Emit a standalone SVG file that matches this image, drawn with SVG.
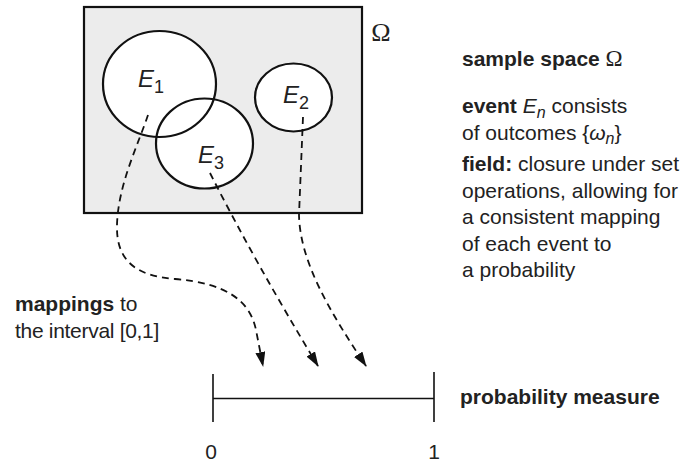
<svg xmlns="http://www.w3.org/2000/svg" width="690" height="465" viewBox="0 0 690 465">
<defs>
<style>
.t{font-family:"Liberation Sans",Arial,sans-serif;font-size:21px;fill:#222}
.b{font-weight:bold}
.ev{font-family:"Liberation Sans",Arial,sans-serif;font-size:24px;fill:#222}
.it{font-style:italic}
.ring{fill:none;stroke:#111;stroke-width:2.2}
.fill{fill:#fff;stroke:none}
.dash{fill:none;stroke:#111;stroke-width:1.8;stroke-dasharray:7 5}
.ln{stroke:#111;stroke-width:1.6;fill:none}
</style>
<marker id="ah" viewBox="0 0 15 10" refX="14" refY="5" markerWidth="15" markerHeight="10" markerUnits="userSpaceOnUse" orient="auto">
<path d="M0,0 L15,5 L0,10 Z" fill="#111"/>
</marker>
</defs>
<rect width="690" height="465" fill="#fff"/>

<g id="sample-space">
<rect x="84" y="7" width="278" height="206" fill="#ececec" stroke="#111" stroke-width="2.2"/>
<text x="381" y="41" class="t" style="font-family:'Liberation Serif',serif;font-size:26px" text-anchor="middle">Ω</text>
</g>

<g id="event-fills">
<ellipse cx="159.5" cy="84" rx="56.5" ry="53" class="fill"/>
<ellipse cx="204.5" cy="143.5" rx="48.5" ry="45" class="fill"/>
<ellipse cx="293.5" cy="97.5" rx="38.5" ry="34" class="fill"/>
</g>

<g id="E1">
<ellipse cx="159.5" cy="84" rx="56.5" ry="53" class="ring"/>
<text x="138" y="87" class="ev"><tspan class="it">E</tspan><tspan dy="6" font-size="18">1</tspan></text>
</g>
<g id="E3">
<ellipse cx="204.5" cy="143.5" rx="48.5" ry="45" class="ring"/>
<text x="198" y="163" class="ev"><tspan class="it">E</tspan><tspan dy="6" font-size="18">3</tspan></text>
</g>
<g id="E2">
<ellipse cx="293.5" cy="97.5" rx="38.5" ry="34" class="ring"/>
<text x="283" y="103" class="ev"><tspan class="it">E</tspan><tspan dy="6" font-size="18">2</tspan></text>
</g>

<g id="connectors">
<path class="dash" marker-end="url(#ah)" d="M148,115 C138,145 118,185 117,225 C116,260 135,276 175,279 C225,283 250,300 256,330 L263,366"/>
<path class="dash" marker-end="url(#ah)" d="M210,173 Q255,262 318,366"/>
<path class="dash" marker-end="url(#ah)" d="M303,117 L299,215 C300,262 330,312 366,366"/>
</g>

<g id="interval">
<path class="ln" d="M213,374 V422 M434,372 V422 M213,398.5 H434"/>
<text x="211" y="459" class="t" text-anchor="middle">0</text>
<text x="434" y="459" class="t" text-anchor="middle">1</text>
</g>

<g id="label-measure">
<text x="460" y="404" class="t b">probability measure</text>
</g>

<g id="label-mappings">
<text x="15" y="311" class="t"><tspan class="b">mappings</tspan> to</text>
<text x="15" y="338" class="t" letter-spacing="-0.3">the interval [0,1]</text>
</g>

<g id="label-sample">
<text x="462" y="66" class="t"><tspan class="b">sample space</tspan> <tspan style="font-family:'Liberation Serif',serif;font-size:23px">Ω</tspan></text>
</g>

<g id="label-event">
<text x="462" y="113" class="t"><tspan class="b">event</tspan> <tspan class="it">E</tspan><tspan class="it" dy="5" font-size="16">n</tspan><tspan dy="-5">  consists</tspan></text>
<text x="462" y="140" class="t">of outcomes {<tspan class="it">ω</tspan><tspan class="it" dy="4" font-size="16">n</tspan><tspan dy="-4">}</tspan></text>
</g>

<g id="label-field">
<text x="462" y="171" class="t"><tspan class="b">field:</tspan> closure under set</text>
<text x="462" y="198" class="t">operations, allowing for</text>
<text x="462" y="224" class="t">a consistent mapping</text>
<text x="462" y="251" class="t">of each event to</text>
<text x="462" y="277" class="t">a probability</text>
</g>
</svg>
